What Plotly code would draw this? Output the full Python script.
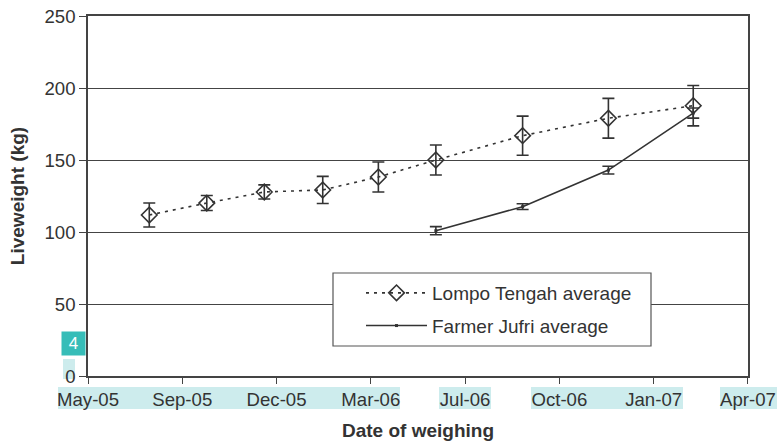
import plotly.graph_objects as go

# ---- data ----
lompo_dates = ["2005-08-01", "2005-10-01", "2005-12-01", "2006-02-01", "2006-04-01",
               "2006-06-01", "2006-09-01", "2006-12-01", "2007-03-01"]
lompo_mean = [111.8, 120.1, 127.8, 129.2, 138.2, 150.0, 166.9, 179.0, 187.7]
lompo_err = [8.3, 5.2, 4.9, 9.4, 10.4, 10.4, 13.6, 13.8, 14.0]

jufri_dates = ["2006-06-01", "2006-09-01", "2006-12-01", "2007-03-01"]
jufri_mean = [100.9, 117.6, 143.0, 182.6]
jufri_err = [2.8, 2.0, 2.7, 3.5]

x_range = ["2005-05-28", "2007-04-28 02:00"]
x_tick0 = "2005-05-28"
y_range = [0, 250]

INK = "#333333"
FONT = "Liberation Sans, Arial, sans-serif"

fig = go.Figure()
fig.add_trace(go.Scatter(
    x=lompo_dates, y=lompo_mean, name="Lompo Tengah average",
    mode="lines+markers",
    line=dict(color=INK, width=1.6, dash="3px,5px"),
    marker=dict(symbol="diamond-open", size=12, color=INK, line=dict(width=1.6, color=INK)),
    error_y=dict(type="data", array=lompo_err, color=INK, thickness=1.6, width=6),
    legendgroup="a",
))
fig.add_trace(go.Scatter(
    x=jufri_dates, y=jufri_mean, name="Farmer Jufri average",
    mode="lines+markers",
    line=dict(color=INK, width=1.6),
    marker=dict(symbol="square", size=3, color=INK),
    error_y=dict(type="data", array=jufri_err, color=INK, thickness=1.6, width=6),
    legendgroup="b",
))

def px2paper_x(px):
    return (px - 88) / 660.0

def px2paper_y(py):
    return (376 - py) / 360.0

shapes = []
HL = "#cdeced"
for (a, b) in [(58, 400), (439, 491), (531, 683), (720, 777)]:
    shapes.append(dict(type="rect", xref="paper", yref="paper", layer="below",
                       x0=px2paper_x(a), x1=px2paper_x(b),
                       y0=px2paper_y(409), y1=px2paper_y(387),
                       fillcolor=HL, line=dict(width=0)))
shapes.append(dict(type="rect", xref="paper", yref="paper", layer="below",
                   x0=px2paper_x(63), x1=px2paper_x(75),
                   y0=px2paper_y(379), y1=px2paper_y(359),
                   fillcolor=HL, line=dict(width=0)))
# legend box
shapes.append(dict(type="rect", xref="paper", yref="paper", layer="above",
                   x0=px2paper_x(333), x1=px2paper_x(651),
                   y0=px2paper_y(346), y1=px2paper_y(273),
                   fillcolor="white", line=dict(width=1.2, color="#555555")))

annotations = [dict(text="4", xref="paper", yref="paper",
                    x=px2paper_x(73.5), y=px2paper_y(343.5), showarrow=False,
                    xanchor="center", yanchor="middle",
                    width=21, height=21, bgcolor="#36bdb8", borderpad=1,
                    font=dict(family=FONT, size=17, color="white"))]

fig.update_layout(
    width=777, height=442,
    margin=dict(l=88, r=29, t=16, b=66),
    paper_bgcolor="white", plot_bgcolor="white",
    font=dict(family=FONT, size=18.6, color=INK),
    showlegend=True,
    legend=dict(x=px2paper_x(361), y=px2paper_y(274), xanchor="left", yanchor="top",
                bgcolor="rgba(0,0,0,0)", borderwidth=0,
                font=dict(family=FONT, size=19, color=INK),
                traceorder="grouped", tracegroupgap=5, itemwidth=61),
    shapes=shapes,
    annotations=annotations,
    xaxis=dict(
        type="date", range=x_range, tick0=x_tick0, dtick=100 * 86400000,
        tickformat="%b-%y", showgrid=False, zeroline=False, automargin=False,
        ticklabeloverflow="allow",
        showline=True, linecolor="#444444", linewidth=1.5, mirror=True,
        ticks="outside", ticklen=6, tickcolor="#444444", tickwidth=1.3,
        tickfont=dict(family=FONT, size=18.6, color=INK),
        title=dict(text="<b>Date of weighing</b>",
                   font=dict(family=FONT, size=19, color=INK)),
    ),
    yaxis=dict(
        range=y_range, dtick=50, showgrid=True, gridcolor="#444444", gridwidth=1.3,
        zeroline=False, showline=True, linecolor="#444444", linewidth=1.5, mirror=True,
        automargin=False, ticklabeloverflow="allow",
        ticks="outside", ticklen=7, tickcolor="#444444", tickwidth=1.3,
        tickfont=dict(family=FONT, size=18.6, color=INK),
        title=dict(text="<b>Liveweight (kg)</b>",
                   font=dict(family=FONT, size=19, color=INK)),
    ),
)

fig.write_html("out.html", config={"displayModeBar": False},
               post_script="document.body.style.margin='0px';")
